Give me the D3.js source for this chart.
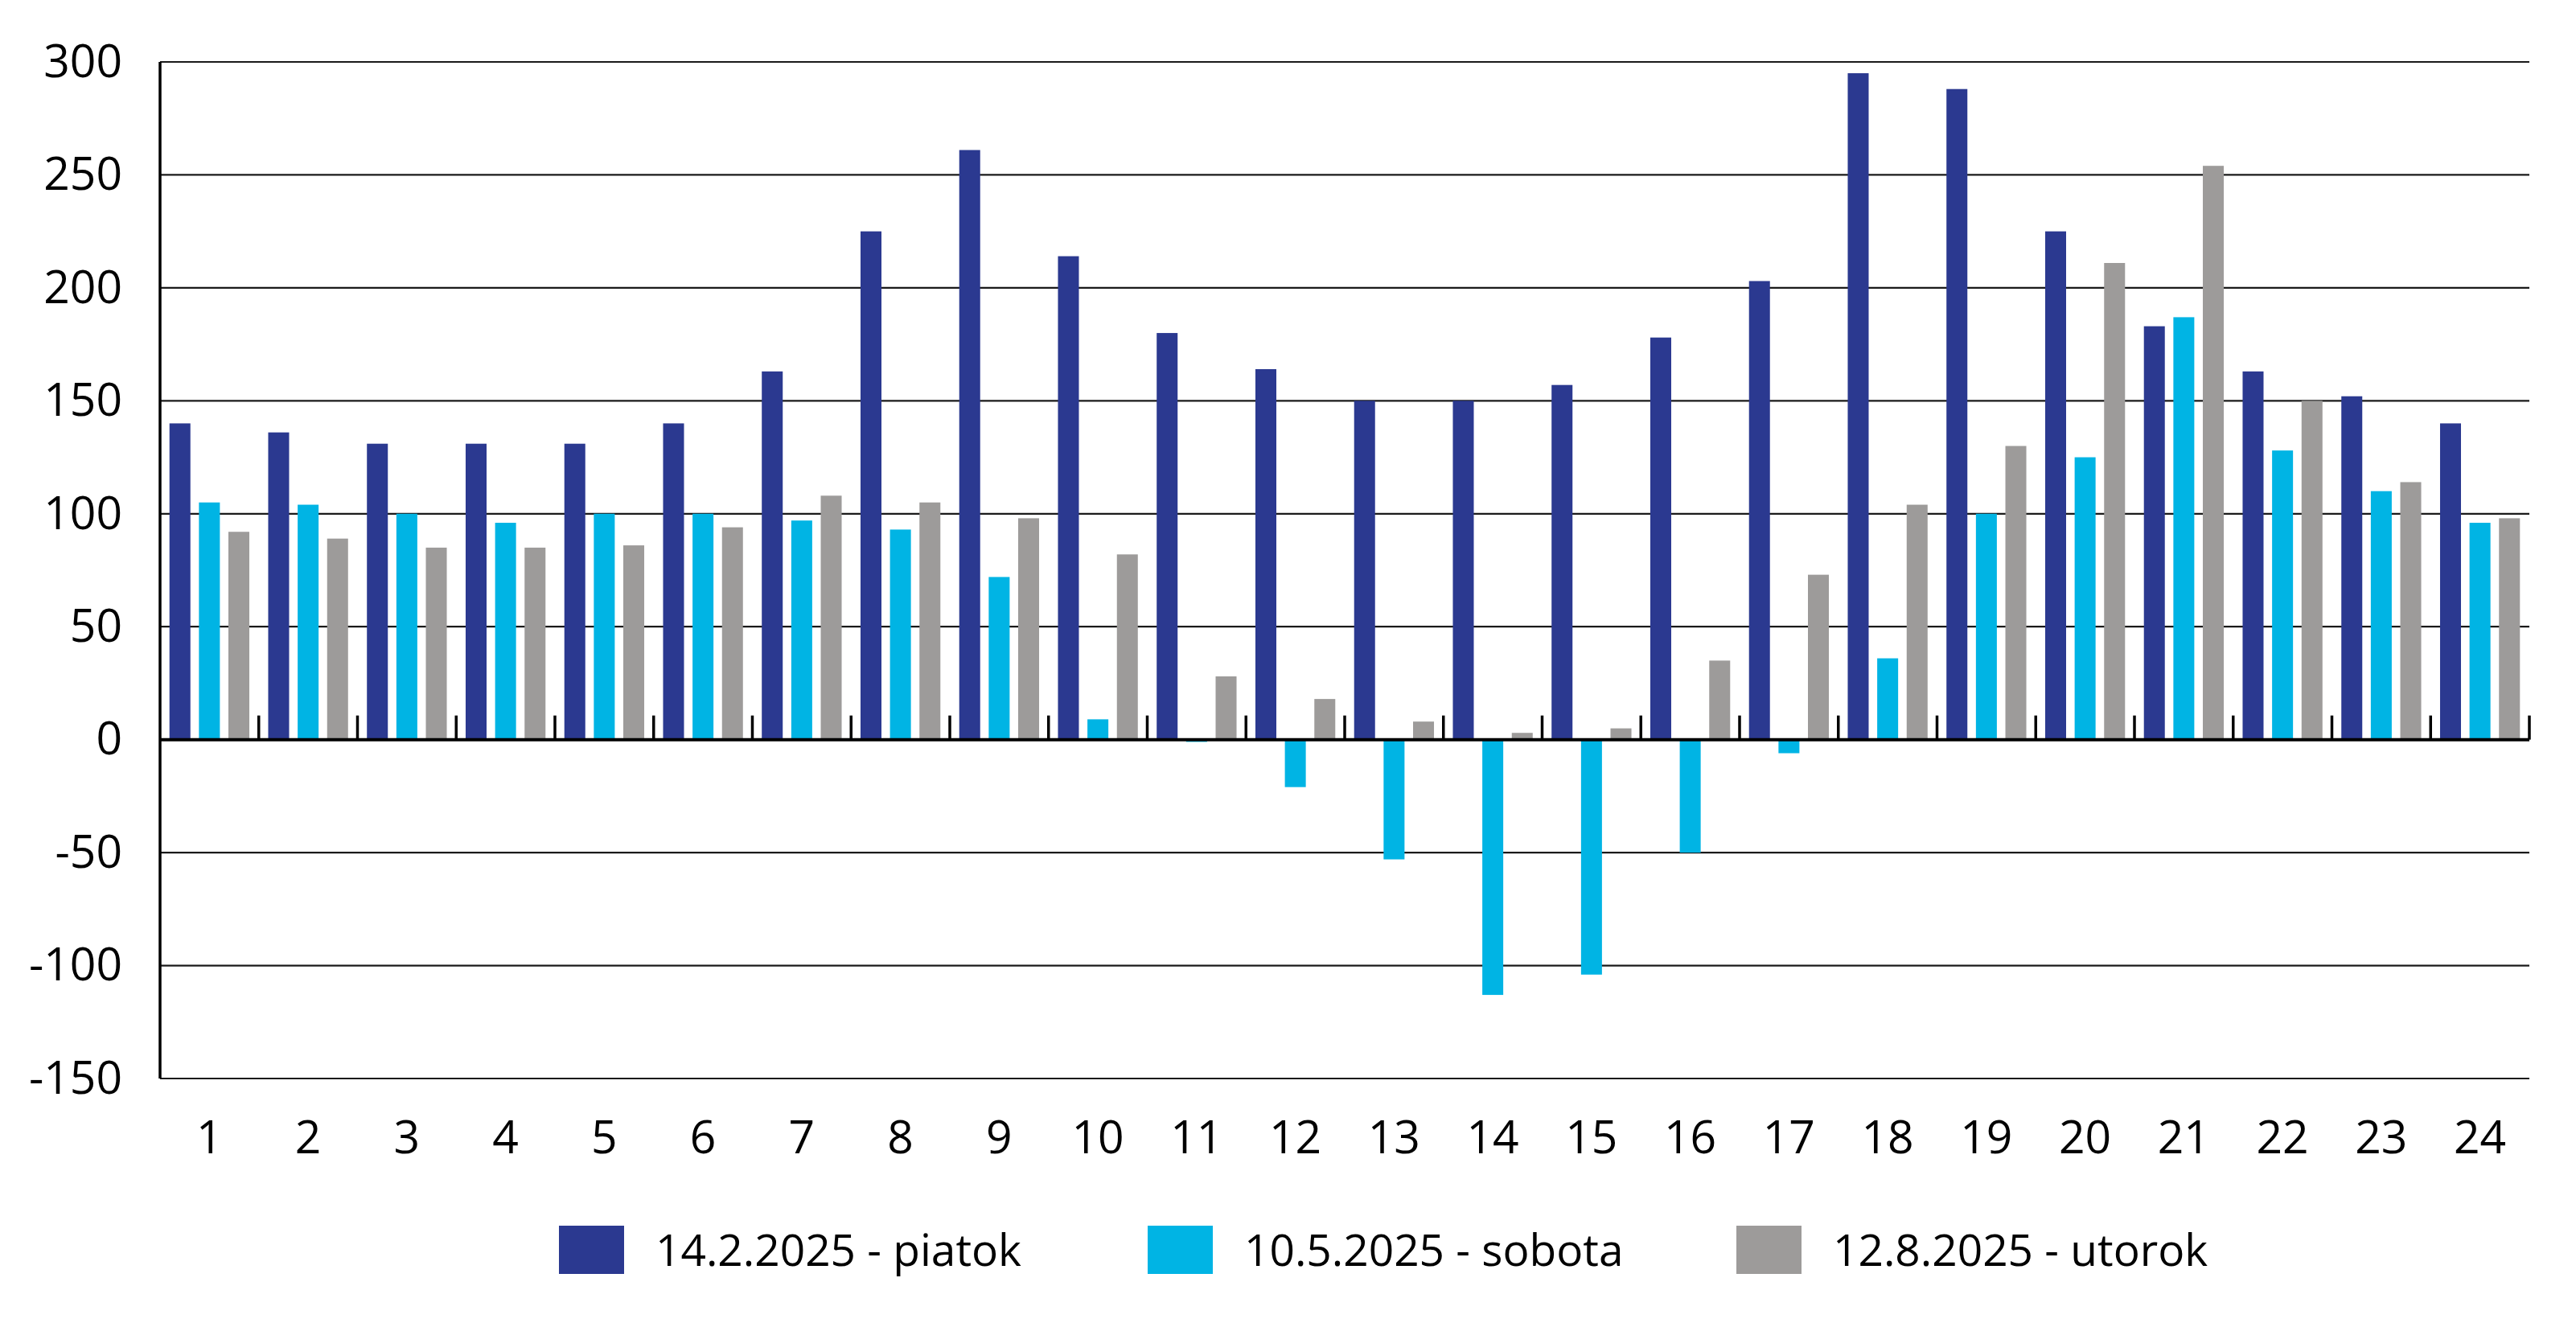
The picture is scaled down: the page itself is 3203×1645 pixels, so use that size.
<!DOCTYPE html>
<html>
<head>
<meta charset="utf-8">
<script src="https://cdn.jsdelivr.net/npm/d3@7"></script>
<style>
  body { margin: 0; background: #fff; }
  text { font-family: "Open Sans", "Noto Sans", sans-serif; }
</style>
</head>
<body>
<div id="chart"></div>
<script>
// hours of the day
var hours = ["1","2","3","4","5","6","7","8","9","10","11","12",
             "13","14","15","16","17","18","19","20","21","22","23","24"];

// series values
var piatok = [140,136,131,131,131,140,163,225,261,214,180,164,150,150,157,178,203,295,288,225,183,163,152,140];
var sobota = [105,104,100,96,100,100,97,93,72,9,-1,-21,-53,-113,-104,-50,-6,36,100,125,187,128,110,96];
var utorok = [92,89,85,85,86,94,108,105,98,82,28,18,8,3,5,35,73,104,130,211,254,150,114,98];

var seriesNames = ["14.2.2025 - piatok", "10.5.2025 - sobota", "12.8.2025 - utorok"];
var seriesColors = ["#2B3990", "#00B4E4", "#9D9B9A"];
var yTicks = [-150,-100,-50,0,50,100,150,200,250,300];

function main() {
  var W = 3203, H = 1645;
  var margin = {top: 77, left: 199, right: 58, bottom: 304};
  var width = W - margin.left - margin.right,
      height = H - margin.top - margin.bottom;

  var svg = d3.select("#chart").append("svg")
      .attr("width", W)
      .attr("height", H);

  var g = svg.append("g")
      .attr("transform", "translate(" + margin.left + "," + margin.top + ")");

  var series = [piatok, sobota, utorok];
  var data = hours.map(function(h, i) {
    return {hour: h, values: series.map(function(s, k) { return {k: k, v: s[i]}; })};
  });

  var x0 = d3.scaleBand().domain(hours).range([0, width]).padding(0);
  var x1 = d3.scaleBand().domain([0,1,2]).range([0, x0.bandwidth()])
      .paddingInner(0.29).paddingOuter(0.32);
  var y = d3.scaleLinear().domain([-150, 300]).range([height, 0]);

  // horizontal grid lines
  g.selectAll(".grid")
    .data(yTicks.filter(function(d){ return d !== 0; }))
    .enter().append("line")
      .attr("x1", 0).attr("x2", width)
      .attr("y1", function(d){ return y(d); })
      .attr("y2", function(d){ return y(d); })
      .attr("stroke", "#1a1a1a")
      .attr("stroke-width", 2.2);

  // bars
  var groups = g.selectAll(".hour")
    .data(data)
    .enter().append("g")
      .attr("transform", function(d){ return "translate(" + x0(d.hour) + ",0)"; });

  groups.selectAll("rect")
    .data(function(d){ return d.values; })
    .enter().append("rect")
      .attr("x", function(d){ return x1(d.k); })
      .attr("width", x1.bandwidth())
      .attr("y", function(d){ return y(Math.max(0, d.v)); })
      .attr("height", function(d){ return Math.abs(y(d.v) - y(0)); })
      .attr("fill", function(d){ return seriesColors[d.k]; });

  // y axis with labels (plain hyphen for negatives, as in the original)
  var yAxis = d3.axisLeft(y).tickValues(yTicks).tickSize(0).tickPadding(47)
      .tickFormat(function(d){ return String(d); });
  var ya = g.append("g").call(yAxis);
  ya.select(".domain").remove();
  ya.selectAll("text")
    .attr("font-size", "57px")
    .attr("fill", "#000")
    .style("font-family", "'Open Sans', 'Noto Sans', sans-serif");

  g.append("line")
    .attr("x1", 0).attr("x2", 0)
    .attr("y1", y(300)).attr("y2", y(-150))
    .attr("stroke", "#000").attr("stroke-width", 3.5);

  // category ticks pointing up from the zero line
  var tickPos = hours.slice(1).map(function(h){ return x0(h); }).concat([width]);
  g.selectAll(".ctick")
    .data(tickPos)
    .enter().append("line")
      .attr("x1", function(d){ return d; }).attr("x2", function(d){ return d; })
      .attr("y1", y(0)).attr("y2", y(0) - 30)
      .attr("stroke", "#000").attr("stroke-width", 3.5);

  // zero line
  g.append("line")
    .attr("x1", 0).attr("x2", width)
    .attr("y1", y(0)).attr("y2", y(0))
    .attr("stroke", "#000").attr("stroke-width", 4);

  // x labels
  g.selectAll(".xlab")
    .data(hours)
    .enter().append("text")
      .attr("x", function(d){ return x0(d) + x0.bandwidth() / 2; })
      .attr("y", height + 93)
      .attr("text-anchor", "middle")
      .attr("font-size", "57px")
      .attr("fill", "#000")
      .text(function(d){ return d; });

  // legend
  var legendX = [695, 1427, 2159];
  var leg = svg.selectAll(".leg")
    .data(seriesNames)
    .enter().append("g")
      .attr("transform", function(d, i){ return "translate(" + legendX[i] + ",1524)"; });
  leg.append("rect")
    .attr("width", 81).attr("height", 60)
    .attr("fill", function(d, i){ return seriesColors[i]; });
  leg.append("text")
    .attr("x", 120).attr("y", 50)
    .attr("font-size", "55px")
    .attr("fill", "#000")
    .text(function(d){ return d; });
}
main();
</script>
</body>
</html>
